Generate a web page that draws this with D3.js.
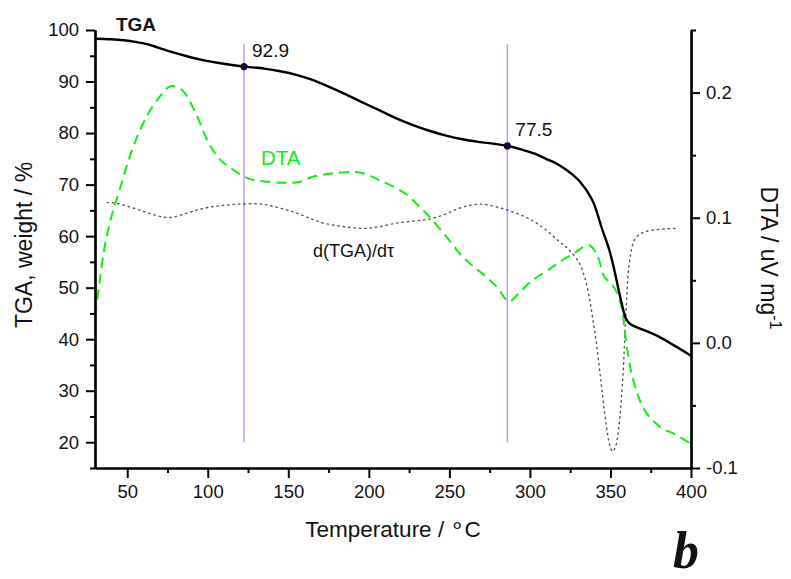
<!DOCTYPE html>
<html>
<head>
<meta charset="utf-8">
<script src="https://cdn.jsdelivr.net/npm/d3@7"></script>
<style>
  body { margin: 0; background: #fff; }
  text { font-family: "Liberation Sans", Arial, sans-serif; fill: #111; }
</style>
</head>
<body>
<div id="chart"></div>
<script>
// TGA curve (left axis, weight %)
var tgaT = [30, 40, 48, 55, 63, 70, 78, 86, 95, 105, 115, 122.5, 135, 145, 155, 165, 175, 185, 195, 206, 216, 227, 238, 248, 258, 268, 278, 286, 295, 303, 310, 318, 325, 331, 338.7, 345, 349.3, 352.4, 356.5, 359.6, 362, 365.8, 372, 380, 390, 400];
var tgaV = [98.3, 98.2, 98.0, 97.7, 97.2, 96.5, 95.7, 95.0, 94.3, 93.7, 93.2, 92.9, 92.5, 92.0, 91.3, 90.3, 89.0, 87.6, 86.1, 84.5, 83.0, 81.6, 80.4, 79.5, 78.8, 78.3, 77.9, 77.5, 76.8, 76.0, 75.0, 73.8, 72.3, 70.6, 67.0, 61.2, 57.3, 53.4, 47.6, 44.0, 43.0, 42.4, 41.6, 40.5, 38.7, 36.8];

// DTA curve (right axis, uV/mg)
var dtaT = [30, 32.5, 35.6, 40, 45, 53, 61.7, 69.8, 77, 84, 92.7, 100.8, 108, 115, 125.7, 135, 146, 156.7, 164.8, 178, 192, 200, 206.4, 215, 223, 229, 237.5, 248, 258, 265, 272.7, 280, 287, 294, 301.6, 310, 320, 328, 333, 336.8, 340, 343, 346, 349, 352.4, 356.5, 359.6, 362.7, 366, 370, 374, 378, 383, 388.5, 394, 399];
var dtaV = [0.022, 0.045, 0.074, 0.100, 0.121, 0.154, 0.180, 0.196, 0.205, 0.202, 0.183, 0.159, 0.146, 0.139, 0.131, 0.129, 0.128, 0.1285, 0.1325, 0.1355, 0.1365, 0.134, 0.130, 0.125, 0.119, 0.112, 0.101, 0.085, 0.069, 0.061, 0.053, 0.044, 0.033, 0.041, 0.050, 0.057, 0.066, 0.072, 0.0765, 0.078, 0.074, 0.066, 0.053, 0.049, 0.044, 0.031, 0.002, -0.022, -0.038, -0.051, -0.059, -0.064, -0.069, -0.072, -0.076, -0.080];

// derivative d(TGA)/dt, drawn in left-axis units
var dtgT = [37.5, 43, 50, 57.3, 66, 76, 86.5, 95, 102.7, 111, 119.4, 133.7, 144, 155, 163, 171, 183, 196, 206, 216.8, 227, 237.5, 247, 256, 263, 270.6, 280, 289.2, 300, 310, 318, 324.4, 330.6, 334, 336.8, 339, 341, 344, 347.2, 349.5, 351.3, 353, 355, 357.6, 359.6, 361.7, 364.8, 368, 372, 380, 390];
var dtgV = [66.5, 66.4, 65.8, 65.1, 64.2, 63.6, 64.4, 65.2, 65.7, 66.0, 66.2, 66.2, 65.5, 64.5, 63.5, 62.6, 61.9, 61.5, 61.8, 62.5, 62.9, 63.3, 64.2, 65.4, 66.0, 66.2, 65.6, 64.7, 63.3, 61.2, 59.0, 57.3, 54.8, 52.0, 48.2, 44.0, 39.8, 32.1, 23.7, 19.5, 18.2, 19.0, 22.4, 32.1, 45.0, 54.7, 59.2, 60.3, 60.9, 61.3, 61.5];

// marked points on TGA
var markT = [122.5, 286];
var markV = [92.9, 77.5];

var xTicks = [50, 100, 150, 200, 250, 300, 350, 400];
var yLTicks = [20, 30, 40, 50, 60, 70, 80, 90, 100];
var yRTicks = [-0.1, 0.0, 0.1, 0.2];

var width = 791, height = 579;
var padL = 95, padR = 691, padT = 30, padB = 468;

var x = d3.scaleLinear().domain([30, 400]).range([padL, padR]);
var yL = d3.scaleLinear().domain([15, 100]).range([padB, padT]);
var yR = d3.scaleLinear().domain([-0.1, 0.25]).range([padB, padT]);

var curve = d3.curveCatmullRom.alpha(0.5);

var svg = d3.select("#chart").append("svg")
  .attr("width", width)
  .attr("height", height);

function zip(a, b) { return a.map(function(d, i) { return [d, b[i]]; }); }

// purple markers
svg.selectAll(".vline")
  .data(markT)
  .enter().append("line")
  .attr("x1", function(d) { return x(d); })
  .attr("x2", function(d) { return x(d); })
  .attr("y1", yL(97.3))
  .attr("y2", yL(20))
  .attr("stroke", "#c79cf3")
  .attr("stroke-width", 1.6);

// dotted derivative
svg.append("path")
  .attr("d", d3.line().curve(curve)
    .x(function(d) { return x(d[0]); })
    .y(function(d) { return yL(d[1]); })(zip(dtgT, dtgV)))
  .attr("fill", "none")
  .attr("stroke", "#555")
  .attr("stroke-width", 1.4)
  .attr("stroke-dasharray", "1.4,4")
  .attr("stroke-linecap", "round");

// DTA dashed
svg.append("path")
  .attr("d", d3.line().curve(curve)
    .x(function(d) { return x(d[0]); })
    .y(function(d) { return yR(d[1]); })(zip(dtaT, dtaV)))
  .attr("fill", "none")
  .attr("stroke", "#11ee11")
  .attr("stroke-width", 2)
  .attr("stroke-dasharray", "10,6");

// TGA solid
svg.append("path")
  .attr("d", d3.line().curve(curve)
    .x(function(d) { return x(d[0]); })
    .y(function(d) { return yL(d[1]); })(zip(tgaT, tgaV)))
  .attr("fill", "none")
  .attr("stroke", "#000")
  .attr("stroke-width", 2.4);

svg.selectAll(".dot")
  .data(markT)
  .enter().append("circle")
  .attr("cx", function(d) { return x(d); })
  .attr("cy", function(d, i) { return yL(markV[i]); })
  .attr("r", 3.6)
  .attr("fill", "#1a0830");

svg.selectAll(".mlabel")
  .data(markT)
  .enter().append("text")
  .attr("x", function(d) { return x(d) + 8; })
  .attr("y", function(d, i) { return yL(markV[i]) - 10; })
  .attr("font-size", 19)
  .text(function(d, i) { return markV[i].toFixed(1); });

// axes
function styleAxis(g) {
  g.selectAll(".domain").attr("stroke", "#000").attr("stroke-width", 2.2);
  g.selectAll(".tick line").attr("stroke", "#000").attr("stroke-width", 2);
  g.selectAll(".tick text").attr("font-size", 18.5).attr("fill", "#111")
    .attr("font-family", "'Liberation Sans', Arial, sans-serif");
}

var xMinor = d3.range(75, 400, 50);
svg.append("g").attr("transform", "translate(0," + padB + ")")
  .call(d3.axisBottom(x).tickValues(xMinor).tickSize(5).tickFormat("").tickSizeOuter(0))
  .call(styleAxis);
svg.append("g").attr("transform", "translate(0," + padB + ")")
  .call(d3.axisBottom(x).tickValues(xTicks).tickSize(10).tickPadding(7).tickSizeOuter(0).tickFormat(d3.format("d")))
  .call(styleAxis);

var yLMinor = d3.range(15, 100, 10);
svg.append("g").attr("transform", "translate(" + padL + ",0)")
  .call(d3.axisLeft(yL).tickValues(yLMinor).tickSize(5).tickFormat("").tickSizeOuter(0))
  .call(styleAxis);
svg.append("g").attr("transform", "translate(" + padL + ",0)")
  .call(d3.axisLeft(yL).tickValues(yLTicks).tickSize(9).tickPadding(7).tickSizeOuter(0).tickFormat(d3.format("d")))
  .call(styleAxis);

var yRMinor = [-0.05, 0.05, 0.15, 0.25];
svg.append("g").attr("transform", "translate(" + padR + ",0)")
  .call(d3.axisRight(yR).tickValues(yRMinor).tickSize(5).tickFormat("").tickSizeOuter(0))
  .call(styleAxis);
svg.append("g").attr("transform", "translate(" + padR + ",0)")
  .call(d3.axisRight(yR).tickValues(yRTicks).tickSize(9).tickPadding(6).tickSizeOuter(0)
    .tickFormat(function(d) { return d.toFixed(1); }))
  .call(styleAxis);

// labels
svg.append("text")
  .attr("x", x(43)).attr("y", 31)
  .attr("font-size", 19).attr("font-weight", "bold")
  .text("TGA");

svg.append("text")
  .attr("x", 261).attr("y", 165)
  .attr("font-size", 20.5)
  .style("fill", "#11ee11")
  .text("DTA");

svg.append("text")
  .attr("x", 313).attr("y", 257)
  .attr("font-size", 18)
  .text("d(TGA)/d\u03c4");

var xl = svg.append("text")
  .attr("x", 393).attr("y", 537)
  .attr("text-anchor", "middle")
  .attr("font-size", 22.5);
xl.append("tspan").text("Temperature / ");
xl.append("tspan").attr("dy", -4).text("\u2218");
xl.append("tspan").attr("dy", 4).text("C");

svg.append("text")
  .attr("transform", "translate(32,245) rotate(-90)")
  .attr("text-anchor", "middle")
  .attr("font-size", 23)
  .text("TGA, weight / %");

var rl = svg.append("text")
  .attr("transform", "translate(761,258) rotate(90)")
  .attr("text-anchor", "middle")
  .attr("font-size", 23);
rl.append("tspan").text("DTA / uV mg");
rl.append("tspan").attr("dy", -9).attr("font-size", 16).text("-1");

svg.append("text")
  .attr("x", 673).attr("y", 568)
  .attr("font-size", 52)
  .attr("font-weight", "bold")
  .attr("font-style", "italic")
  .style("font-family", "'Liberation Serif', 'Times New Roman', serif")
  .text("b");
</script>
</body>
</html>
